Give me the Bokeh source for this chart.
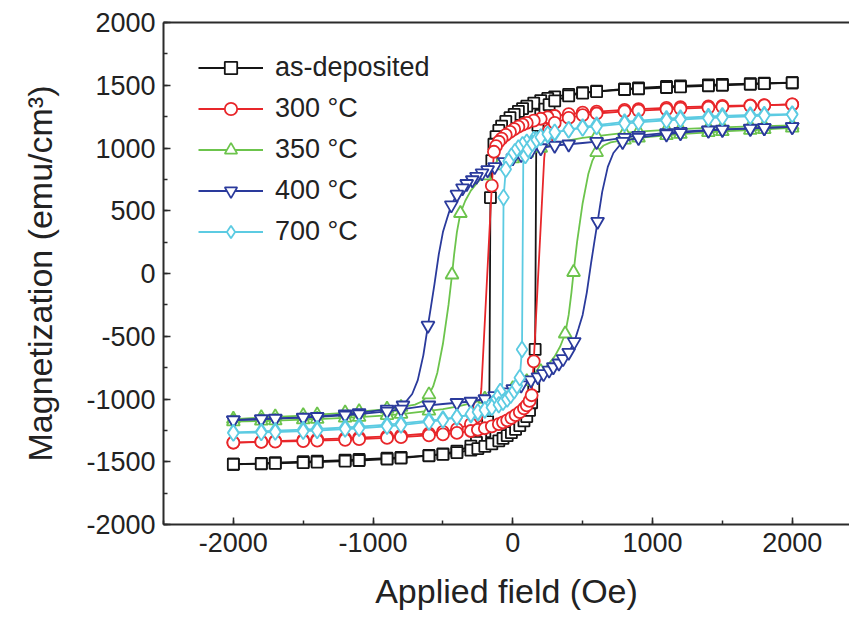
from bokeh.plotting import figure
from bokeh.models import (Range1d, LinearAxis, SingleIntervalTicker, FixedTicker,
                          Legend, LegendItem, PrintfTickFormatter)
from bokeh.embed import file_html
from bokeh.resources import INLINE

# ---------------- data ----------------
labels = ["as-deposited", "300 °C", "350 °C", "400 °C", "700 °C"]

# as-deposited
black_desc_H = [2000,1800,1700,1500,1400,1200,1100,900,800,600,500,400,300,250,200,150,100,70,40,10,
                -20,-50,-80,-100,-120,-135,-150,-160,-168,-180,-200,-230,-260,-300,-400,-500,-600,-800,-900,-1100,
                -1200,-1400,-1500,-1700,-1800,-2000]
black_desc_M = [1520,1516,1513,1507,1503,1495,1490,1478,1470,1452,1442,1428,1408,1395,1378,1358,1333,1314,1292,1268,
                1242,1212,1175,1140,1090,1030,900,605,-1050,-1180,-1260,-1310,-1345,-1375,-1415,-1437,-1450,-1466,-1472,-1482,
                -1487,-1496,-1500,-1508,-1513,-1520]
black_asc_H = [-2000,-1800,-1700,-1500,-1400,-1200,-1100,-900,-800,-600,-500,-400,-300,-250,-200,-150,-100,-70,-40,-10,
               20,50,80,100,120,135,150,160,168,180,200,230,260,300,400,500,600,800,900,1100,
               1200,1400,1500,1700,1800,2000]
black_asc_M = [-1520,-1516,-1513,-1507,-1503,-1495,-1490,-1478,-1470,-1452,-1442,-1428,-1408,-1395,-1378,-1358,-1333,-1314,-1292,-1268,
               -1242,-1212,-1175,-1140,-1090,-1030,-900,-605,1050,1180,1260,1310,1345,1375,1415,1437,1450,1466,1472,1482,
               1487,1496,1500,1508,1513,1520]
black_plain_H = [-168, 168]

# 300 C
red_desc_H = [2000,1800,1700,1500,1400,1200,1100,900,800,600,500,400,300,250,200,150,100,70,40,10,
              -20,-50,-80,-100,-120,-135,-150,-225,-240,-260,-300,-400,-500,-600,-800,-900,-1100,-1200,-1400,-1500,
              -1700,-1800,-2000]
red_desc_M = [1347,1342,1340,1335,1332,1325,1320,1310,1304,1290,1282,1270,1255,1245,1233,1218,1200,1186,1170,1150,
              1128,1104,1075,1050,1015,970,700,-920,-1060,-1140,-1200,-1240,-1262,-1275,-1292,-1298,-1308,-1313,-1322,-1328,
              -1336,-1340,-1347]
red_asc_H = [-2000,-1800,-1700,-1500,-1400,-1200,-1100,-900,-800,-600,-500,-400,-300,-250,-200,-150,-100,-70,-40,-10,
             20,50,80,100,120,135,150,225,240,260,300,400,500,600,800,900,1100,1200,1400,1500,
             1700,1800,2000]
red_asc_M = [-1347,-1342,-1340,-1335,-1332,-1325,-1320,-1310,-1304,-1290,-1282,-1270,-1255,-1245,-1233,-1218,-1200,-1186,-1170,-1150,
             -1128,-1104,-1075,-1050,-1015,-970,-700,920,1060,1140,1200,1240,1262,1275,1292,1298,1308,1313,1322,1328,
             1336,1340,1347]
red_plain_H = [-225, 225]

# 350 C
green_desc_H = [2000,1800,1700,1500,1400,1200,1100,900,800,600,500,400,300,200,100,0,-100,-200,-250,-300,
                -340,-375,-400,-420,-435,-460,-500,-540,-570,-600,-650,-700,-800,-900,-1100,-1200,-1400,-1500,-1700,-1800,
                -2000]
green_desc_M = [1180,1175,1172,1165,1160,1150,1145,1130,1120,1095,1080,1060,1035,1000,960,915,860,780,730,660,
                580,480,330,150,-10,-250,-560,-790,-900,-965,-1020,-1045,-1065,-1080,-1100,-1110,-1125,-1132,-1142,-1148,
                -1160]
green_asc_H = [-2000,-1800,-1700,-1500,-1400,-1200,-1100,-900,-800,-600,-500,-400,-300,-200,-100,0,100,200,250,300,
               340,375,400,420,435,460,500,540,570,600,650,700,800,900,1100,1200,1400,1500,1700,1800,
               2000]
green_asc_M = [-1180,-1175,-1172,-1165,-1160,-1150,-1145,-1130,-1120,-1095,-1080,-1060,-1035,-1000,-960,-915,-860,-780,-730,-660,
               -580,-480,-330,-150,10,250,560,790,900,965,1020,1045,1065,1080,1100,1110,1125,1132,1142,1148,
               1160]
green_plain_H = [-250,-300,-340,-400,-420,-460,-500,-540,-570,-650,-700,
                 250,300,340,400,420,460,500,540,570,650,700]

# 400 C
blue_desc_H = [2000,1800,1700,1500,1400,1200,1100,900,800,600,500,400,300,200,130,60,0,-60,-130,-180,
               -220,-260,-290,-330,-360,-400,-440,-470,-500,-530,-560,-585,-607,-640,-680,-720,-786,-900,-1100,-1200,
               -1400,-1500,-1700,-1800,-2000]
blue_desc_M = [1168,1160,1156,1148,1143,1130,1120,1098,1082,1050,1040,1030,1020,1000,975,945,920,890,850,825,
               800,772,745,715,680,630,545,440,330,150,-80,-260,-414,-650,-850,-960,-1050,-1082,-1110,-1120,
               -1140,-1147,-1155,-1160,-1168]
blue_asc_H = [-2000,-1800,-1700,-1500,-1400,-1200,-1100,-900,-800,-600,-500,-400,-300,-200,-130,-60,0,60,130,180,
              220,260,290,330,360,400,440,470,500,530,560,585,607,640,680,720,786,900,1100,1200,
              1400,1500,1700,1800,2000]
blue_asc_M = [-1168,-1160,-1156,-1148,-1143,-1130,-1120,-1098,-1082,-1050,-1040,-1030,-1020,-1000,-975,-945,-920,-890,-850,-825,
              -800,-772,-745,-715,-680,-630,-545,-440,-330,-150,80,260,414,650,850,960,1050,1082,1110,1120,
              1140,1147,1155,1160,1168]
blue_plain_H = [-470,-500,-530,-560,-585,-640,-680,-720,
                470,500,530,560,585,640,680,720]

# 700 C
cyan_desc_H = [2000,1800,1700,1500,1400,1200,1100,900,800,600,500,400,300,250,200,150,100,70,40,15,
               -10,-30,-50,-66,-75,-90,-110,-140,-170,-200,-250,-300,-400,-500,-600,-800,-900,-1100,-1200,-1400,
               -1500,-1700,-1800,-2000]
cyan_desc_M = [1270,1266,1263,1256,1251,1240,1233,1218,1208,1183,1167,1146,1120,1104,1088,1068,1045,1025,1000,970,
               935,895,830,605,-880,-940,-990,-1035,-1065,-1085,-1110,-1125,-1145,-1160,-1172,-1195,-1205,-1220,-1227,-1238,
               -1244,-1253,-1258,-1267]
cyan_asc_H = [-2000,-1800,-1700,-1500,-1400,-1200,-1100,-900,-800,-600,-500,-400,-300,-250,-200,-150,-100,-70,-40,-15,
              10,30,50,66,75,90,110,140,170,200,250,300,400,500,600,800,900,1100,1200,1400,
              1500,1700,1800,2000]
cyan_asc_M = [-1270,-1266,-1263,-1256,-1251,-1240,-1233,-1218,-1208,-1183,-1167,-1146,-1120,-1104,-1088,-1068,-1045,-1025,-1000,-970,
              -935,-895,-830,-605,880,940,990,1035,1065,1085,1110,1125,1145,1160,1172,1195,1205,1220,1227,1238,
              1244,1253,1258,1267]
cyan_plain_H = [-75, 75]

colors = ["#151515", "#e8262a", "#6cc44c", "#2a3a9c", "#5ccbe2"]
markers = ["square", "circle", "triangle", "inverted_triangle", "diamond"]
msizes = [11, 12, 13, 13, 16]

series = [
    (black_desc_H, black_desc_M, black_asc_H, black_asc_M, black_plain_H),
    (red_desc_H, red_desc_M, red_asc_H, red_asc_M, red_plain_H),
    (green_desc_H, green_desc_M, green_asc_H, green_asc_M, green_plain_H),
    (blue_desc_H, blue_desc_M, blue_asc_H, blue_asc_M, blue_plain_H),
    (cyan_desc_H, cyan_desc_M, cyan_asc_H, cyan_asc_M, cyan_plain_H),
]

FONT = "Liberation Sans"
AX = "#2b2b2b"

p = figure(width=849, height=635, output_backend="svg", toolbar_location=None,
           x_range=Range1d(-2500, 2410), y_range=Range1d(-2000, 2000),
           min_border_left=163, min_border_right=0, min_border_top=22, min_border_bottom=111,
           x_axis_label="Applied field (Oe)", y_axis_label="Magnetization (emu/cm³)")
p.outline_line_color = None
p.grid.visible = False
p.background_fill_color = "white"
p.border_fill_color = "white"

p.xaxis.ticker = SingleIntervalTicker(interval=1000, num_minor_ticks=2)
p.yaxis.ticker = SingleIntervalTicker(interval=500, num_minor_ticks=2)
for ax in (p.xaxis[0], p.yaxis[0]):
    ax.formatter = PrintfTickFormatter(format="%d")
    ax.axis_line_width = 2
    ax.axis_line_color = AX
    ax.major_tick_line_color = AX
    ax.minor_tick_line_color = AX
    ax.major_tick_line_width = 1.5
    ax.minor_tick_line_width = 1.5
    ax.major_tick_in = 7
    ax.major_tick_out = 0
    ax.minor_tick_in = 4
    ax.minor_tick_out = 0
    ax.major_label_text_font = FONT
    ax.major_label_text_font_size = "27px"
    ax.major_label_text_color = "#222222"
    ax.axis_label_text_font = FONT
    ax.axis_label_text_font_size = "34px"
    ax.axis_label_text_font_style = "normal"
    ax.axis_label_text_color = "#222222"
    ax.major_label_standoff = 8
p.yaxis[0].axis_label_standoff = 24
p.xaxis[0].axis_label_standoff = 17

top = LinearAxis(ticker=FixedTicker(ticks=[]), axis_line_width=2, axis_line_color=AX,
                 major_tick_line_color=None, minor_tick_line_color=None,
                 major_tick_out=0, major_label_standoff=0)
p.add_layout(top, "above")

items = []
for (dH, dM, aH, aM, plain), c, mk, ms, lab in zip(series, colors, markers, msizes, labels):
    l1 = p.line(dH, dM, line_color=c, line_width=1.8)
    l2 = p.line(aH, aM, line_color=c, line_width=1.8)
    mH = [h for h in dH if h not in plain] + [h for h in aH if h not in plain]
    mM = [m for h, m in zip(dH, dM) if h not in plain] + [m for h, m in zip(aH, aM) if h not in plain]
    s = p.scatter(mH, mM, marker=mk, size=ms, line_color=c, line_width=1.8, fill_color="white")
    items.append(LegendItem(label=lab, renderers=[l1, s]))

legend = Legend(items=items, location=(35, 277), padding=5, spacing=10,
                glyph_width=65, glyph_height=31, label_height=31, label_standoff=12,
                label_text_font=FONT, label_text_font_size="27px", label_text_color="#222222",
                background_fill_alpha=0, border_line_color=None)
p.add_layout(legend)

open("out.html", "w").write(file_html(p, INLINE))
